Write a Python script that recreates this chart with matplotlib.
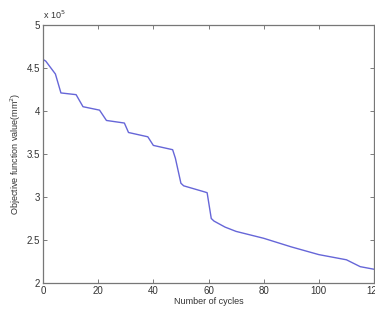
import numpy as np
import matplotlib.pyplot as plt

plt.rcParams['font.family'] = ['Liberation Sans', 'DejaVu Sans']

# objective value (x 10^5)
cycles = [0, 1, 4.5, 6.5, 12, 14.5, 20.5, 23, 29.5, 31, 38, 40, 47, 48, 50, 51,
          58.5, 59.5, 61, 62, 66, 70, 80, 90, 100, 105, 110, 115, 120]
objective = [4.60, 4.58, 4.43, 4.21, 4.19, 4.05, 4.01, 3.89, 3.86, 3.75, 3.70, 3.60,
             3.55, 3.45, 3.16, 3.13, 3.06, 3.05, 2.75, 2.72, 2.65, 2.60, 2.52, 2.42,
             2.33, 2.30, 2.27, 2.19, 2.16]
xticks = [0, 20, 40, 60, 80, 100, 120]
yticks = [2, 2.5, 3, 3.5, 4, 4.5, 5]

fig = plt.figure(figsize=(3.75, 3.11), dpi=100)
ax = fig.add_axes([43 / 375, 28 / 311, 331 / 375, 258 / 311])
ax.plot(cycles, objective, color='#6666d8', lw=1.0)

ax.set_xlim(0, 120)
ax.set_ylim(2, 5)
ax.set_xticks(xticks)
ax.set_xticklabels([str(t) for t in xticks])
ax.set_yticks(yticks)
ax.set_yticklabels(['2', '2.5', '3', '3.5', '4', '4.5', '5'])
ax.tick_params(direction='in', top=True, right=True, length=3, width=0.6,
               color='#666666', labelsize=7, labelcolor='#333333', pad=2)
for s in ax.spines.values():
    s.set_color('#777777')
    s.set_linewidth(0.9)

ax.set_xlabel('Number of cycles', fontsize=6.5, color='#333333', labelpad=1)
ax.set_ylabel('Objective function value(mm$^2$)', fontsize=6.5, color='#333333', labelpad=3)
ax.text(0.0, 1.015, r'x 10$^5$', transform=ax.transAxes, fontsize=6.5, color='#333333',
        ha='left', va='bottom')

plt.savefig('out.png', dpi=100)
